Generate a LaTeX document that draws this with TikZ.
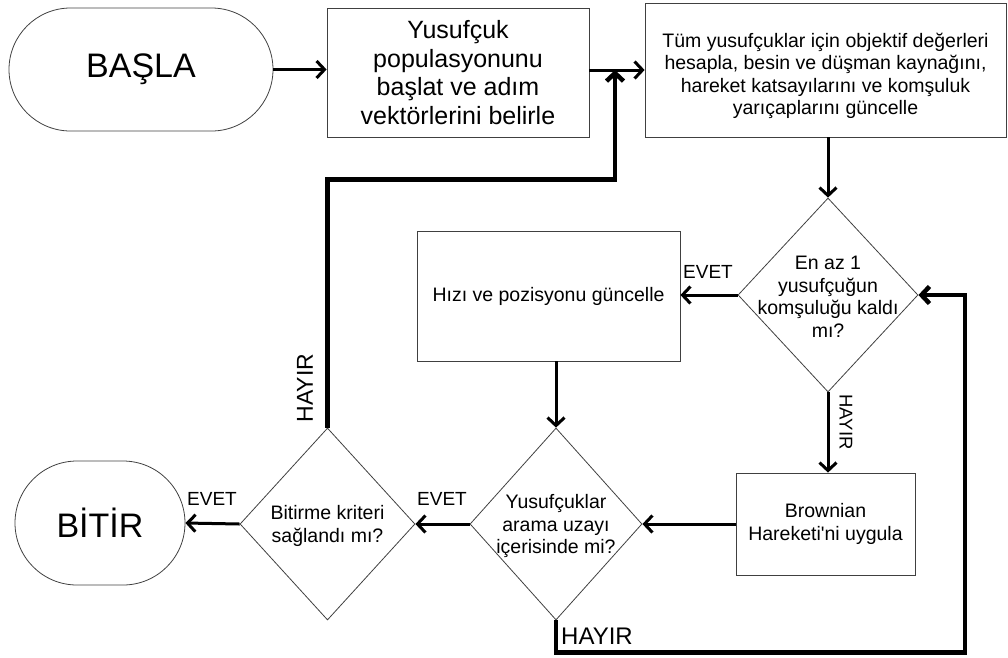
\documentclass[tikz,border=0pt]{standalone}
\usepackage{fontspec}
\setmainfont{Liberation Sans}
\usetikzlibrary{shapes.geometric,shapes.misc,arrows.meta,positioning}

\tikzset{
  term/.style={draw=black!75, line width=0.8pt, rounded rectangle, inner sep=0pt,
    font=\fontsize{34}{40}\selectfont},
  procbox/.style={draw=black!75, line width=0.8pt, rectangle, inner sep=0pt, align=center},
  dec/.style={draw=black!75, line width=0.8pt, diamond, inner sep=0pt},
  dectext/.style={align=center, inner sep=0pt, font=\fontsize{19.5}{22.5}\selectfont},
  arr/.style={line width=3pt, -{Straight Barb[length=8pt,width=17pt]}},
  loopline/.style={line width=4.5pt, -{Straight Barb[length=8pt,width=17pt]}},
  lbl/.style={inner sep=0pt, font=\fontsize{19}{22}\selectfont}
}

\begin{document}
\begin{tikzpicture}[x=1pt, y=-1pt]
  \useasboundingbox (0,0) rectangle (1008,657);

  % terminals
  \node[term, minimum width=264pt, minimum height=123pt] (start) at (141,69.5) {BAŞLA};
  \node[term, minimum width=170pt, minimum height=124pt] (stop) at (100,523) {BİTİR};

  % process boxes
  \node[procbox, minimum width=262pt, minimum height=129pt, font=\fontsize{25}{28.5}\selectfont]
    (init) at (458,72.5) {Yusufçuk\\populasyonunu\\başlat ve adım\\vektörlerini belirle};
  \node[procbox, minimum width=361pt, minimum height=134pt] (eval) at (825.5,70) {};
  \node[dectext] (evalt) at (825.5,76) {Tüm yusufçuklar için objektif değerleri\\hesapla, besin ve düşman kaynağını,\\hareket katsayılarını ve komşuluk\\yarıçaplarını güncelle};
  \node[procbox, minimum width=263pt, minimum height=130pt, font=\fontsize{19.5}{22.5}\selectfont]
    (upd) at (548.5,296) {Hızı ve pozisyonu güncelle};
  \node[procbox, minimum width=179pt, minimum height=102pt, font=\fontsize{19.5}{22.5}\selectfont]
    (brown) at (825.5,524) {Brownian\\Hareketi\textquotesingle ni uygula};

  % decisions
  \node[dec, minimum width=180pt, minimum height=194pt] (nbr) at (828,295) {};
  \node[dectext] (nbrt) at (828,297) {En az 1\\yusufçuğun\\komşuluğu kaldı\\mı?};
  \node[dec, minimum width=172pt, minimum height=192pt] (bound) at (556,524) {};
  \node[dectext] (boundt) at (556,526) {Yusufçuklar\\arama uzayı\\içerisinde mi?};
  \node[dec, minimum width=175pt, minimum height=192pt] (crit) at (327.5,524) {};
  \node[dectext] (critt) at (327.5,526) {Bitirme kriteri\\sağlandı mı?};

  % helper points
  \coordinate (join) at (615,70);
  \coordinate (back) at (965,295);

  % main flow
  \draw[arr] (start.east) -- (init.west |- start.east);
  \draw[arr] (init.east |- eval.west) -- (eval.west);
  \draw[arr] (nbr.north |- eval.south) -- (nbr.north);
  \draw[arr] (nbr.west) -- (upd.east |- nbr.west);
  \draw[arr] (bound.north |- upd.south) -- (bound.north);
  \draw[arr] (nbr.south) -- (brown.north -| nbr.south);
  \draw[arr] (brown.west) -- (bound.east);
  \draw[arr] (bound.west) -- (crit.east);
  \draw[arr] (crit.west) -- (stop.east);

  % loops
  \draw[loopline] (crit.north) -- ++(0,-248) -| (join);
  \draw[loopline] (bound.south) -- ++(0,32) -| (back) -- (nbr.east);

  % labels
  \node[lbl] (y1) at (708,272) {EVET};
  \node[lbl] (y2) at (442,499) {EVET};
  \node[lbl] (y3) at (212,499) {EVET};
  \node[lbl, rotate=-90, font=\fontsize{18.5}{22}\selectfont] (n1) at (846,422) {HAYIR};
  \node[lbl, font=\fontsize{24}{28}\selectfont] (n2) at (597,636) {HAYIR};
  \node[lbl, rotate=90, font=\fontsize{23}{28}\selectfont] (n3) at (305,388) {HAYIR};
\end{tikzpicture}
\end{document}
